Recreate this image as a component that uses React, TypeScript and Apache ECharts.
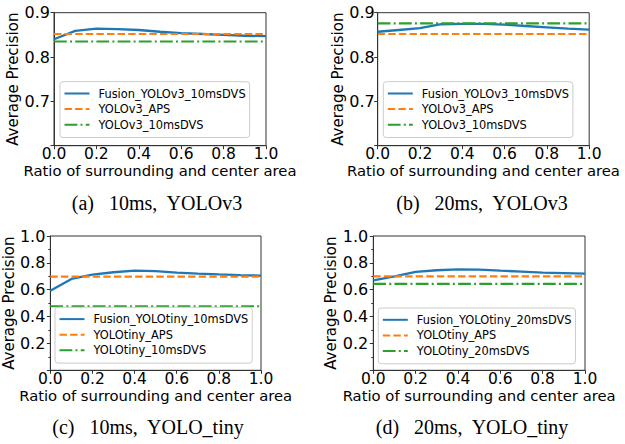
import React, { useEffect, useRef } from "react";
import * as echarts from "echarts";

const xs = [0, 0.1, 0.2, 0.3, 0.4, 0.5, 0.6, 0.7, 0.8, 0.9, 1.0];
const xEnds = [0, 1];

// (a) 10ms, YOLOv3
const fusionA = [0.840, 0.859, 0.864, 0.863, 0.861, 0.857, 0.854, 0.852, 0.850, 0.848, 0.847];
const apsA = 0.852;
const dvsA = 0.835;
// (b) 20ms, YOLOv3
const fusionB = [0.857, 0.861, 0.865, 0.874, 0.875, 0.875, 0.873, 0.870, 0.867, 0.864, 0.862];
const apsB = 0.852;
const dvsB = 0.876;
// (c) 10ms, YOLO_tiny
const fusionC = [0.592, 0.68, 0.712, 0.73, 0.742, 0.738, 0.728, 0.72, 0.714, 0.709, 0.705];
const apsC = 0.698;
const dvsC = 0.477;
// (d) 20ms, YOLO_tiny
const fusionD = [0.67, 0.70, 0.733, 0.745, 0.752, 0.75, 0.742, 0.735, 0.728, 0.724, 0.72];
const apsD = 0.70;
const dvsD = 0.643;

const namesA = ["Fusion_YOLOv3_10msDVS", "YOLOv3_APS", "YOLOv3_10msDVS"];
const namesB = ["Fusion_YOLOv3_10msDVS", "YOLOv3_APS", "YOLOv3_10msDVS"];
const namesC = ["Fusion_YOLOtiny_10msDVS", "YOLOtiny_APS", "YOLOtiny_10msDVS"];
const namesD = ["Fusion_YOLOtiny_20msDVS", "YOLOtiny_APS", "YOLOtiny_20msDVS"];

const captions = ["(a)   10ms,  YOLOv3", "(b)   20ms,  YOLOv3", "(c)   10ms,  YOLO_tiny", "(d)   20ms,  YOLO_tiny"];
const xTitle = "Ratio of surrounding and center area";
const yTitle = "Average Precision";

const BLUE = "#1f77b4";
const ORANGE = "#ff7f0e";
const GREEN = "#2ca02c";
const SANS = "DejaVu Sans";
const AX = "#333333";

export default function App() {
  const ref = useRef<HTMLDivElement>(null);
  useEffect(() => {
    if (!ref.current) return;
    const chart = echarts.init(ref.current, undefined, { renderer: "svg" });

    const grids = [
      { left: 54, top: 12.7, width: 212, height: 133 },
      { left: 377.7, top: 12.7, width: 211.5, height: 133 },
      { left: 50, top: 236, width: 211, height: 134.3 },
      { left: 373.3, top: 236, width: 211.7, height: 134.3 },
    ].map((g) => ({ ...g, show: true, borderColor: AX, borderWidth: 1, backgroundColor: "transparent" }));

    const yMargins = [4, 3, 5, 5];
    const yGaps = [23.5, 23.5, 24.3, 24.3];
    const xAxes = grids.map((_, i) => ({
      type: "value",
      gridIndex: i,
      min: 0,
      max: 1,
      interval: 0.2,
      name: xTitle,
      nameLocation: "middle",
      nameGap: 17.5,
      nameTextStyle: { fontFamily: SANS, fontSize: 14.8, color: "#000" },
      axisLine: { show: true, lineStyle: { color: AX, width: 1 } },
      axisTick: { show: true, length: 3.5, lineStyle: { color: AX } },
      axisLabel: {
        margin: 0.5,
        fontFamily: SANS,
        fontSize: 15.5,
        color: "#000",
        formatter: (v: number) => v.toFixed(1),
      },
      splitLine: { show: false },
    }));

    const yAxes = grids.map((_, i) => {
      const big = i < 2;
      return {
        type: "value",
        gridIndex: i,
        min: big ? 0.6 : 0,
        max: big ? 0.9 : 1,
        interval: big ? 0.1 : 0.2,
        name: yTitle,
        nameLocation: "middle",
        nameGap: yGaps[i],
        nameTextStyle: { fontFamily: SANS, fontSize: 15, color: "#000" },
        axisLine: { show: true, lineStyle: { color: AX, width: 1 } },
        axisTick: { show: true, length: 3.5, lineStyle: { color: AX } },
        minorTick: big ? { show: false } : { show: true, splitNumber: 2, length: 2, lineStyle: { color: AX } },
        axisLabel: {
          margin: yMargins[i],
          fontFamily: SANS,
          fontSize: 16,
          color: "#000",
          formatter: (v: number) => (v <= (big ? 0.6001 : 0.0001) ? "" : v.toFixed(1)),
        },
        splitLine: { show: false },
      };
    });

    const panels = [
      { fusion: fusionA, aps: apsA, dvs: dvsA, names: namesA },
      { fusion: fusionB, aps: apsB, dvs: dvsB, names: namesB },
      { fusion: fusionC, aps: apsC, dvs: dvsC, names: namesC },
      { fusion: fusionD, aps: apsD, dvs: dvsD, names: namesD },
    ];

    const series: any[] = [];
    panels.forEach((p, i) => {
      series.push({
        type: "line",
        name: p.names[0],
        xAxisIndex: i,
        yAxisIndex: i,
        data: xs.map((x, k) => [x, p.fusion[k]]),
        symbol: "none",
        lineStyle: { color: BLUE, width: 2.3 },
        itemStyle: { color: BLUE },
      });
      series.push({
        type: "line",
        name: p.names[1],
        xAxisIndex: i,
        yAxisIndex: i,
        data: xEnds.map((x) => [x, p.aps]),
        symbol: "none",
        lineStyle: { color: ORANGE, width: 2.2, type: [7.4, 3.2] },
        itemStyle: { color: ORANGE },
      });
      series.push({
        type: "line",
        name: p.names[2],
        xAxisIndex: i,
        yAxisIndex: i,
        data: xEnds.map((x) => [x, p.dvs]),
        symbol: "none",
        lineStyle: { color: GREEN, width: 2.2, type: [12.8, 3.2, 2, 3.2] },
        itemStyle: { color: GREEN },
      });
    });

    const legendPos = [
      { left: 60, top: 81.7 },
      { left: 383.3, top: 81.7 },
      { left: 55, top: 307.3 },
      { left: 378.3, top: 308 },
    ];
    const legends = panels.map((p, i) => ({
      orient: "vertical",
      left: legendPos[i].left,
      top: legendPos[i].top,
      data: p.names,
      itemWidth: 25,
      itemHeight: 12,
      itemGap: 4.6,
      padding: [6.3, 4, 7.3, 3.5],
      borderColor: "#cccccc",
      borderWidth: 1,
      borderRadius: 3,
      backgroundColor: "rgba(255,255,255,0.85)",
      selectedMode: false,
      itemStyle: { opacity: 0, borderWidth: 0 },
      textStyle: { fontFamily: SANS, fontSize: 11.4, color: "#000", padding: [0, 0, 0, 4] },
    }));

    const capPos = [
      { x: 157, y: 203 },
      { x: 482, y: 203 },
      { x: 148, y: 427 },
      { x: 472, y: 427 },
    ];
    const graphic = captions.map((t, i) => ({
      type: "text",
      x: capPos[i].x,
      y: capPos[i].y,
      style: {
        text: t,
        textAlign: "center",
        textVerticalAlign: "middle",
        font: '20px "Liberation Serif"',
        fill: "#000",
      },
    }));

    chart.setOption({
      animation: false,
      backgroundColor: "#ffffff",
      grid: grids,
      xAxis: xAxes,
      yAxis: yAxes,
      legend: legends,
      series,
      graphic,
    });
    return () => chart.dispose();
  }, []);

  return (
    <div
      ref={ref}
      style={{ position: "fixed", left: 0, top: 0, width: 625, height: 444 }}
    />
  );
}
